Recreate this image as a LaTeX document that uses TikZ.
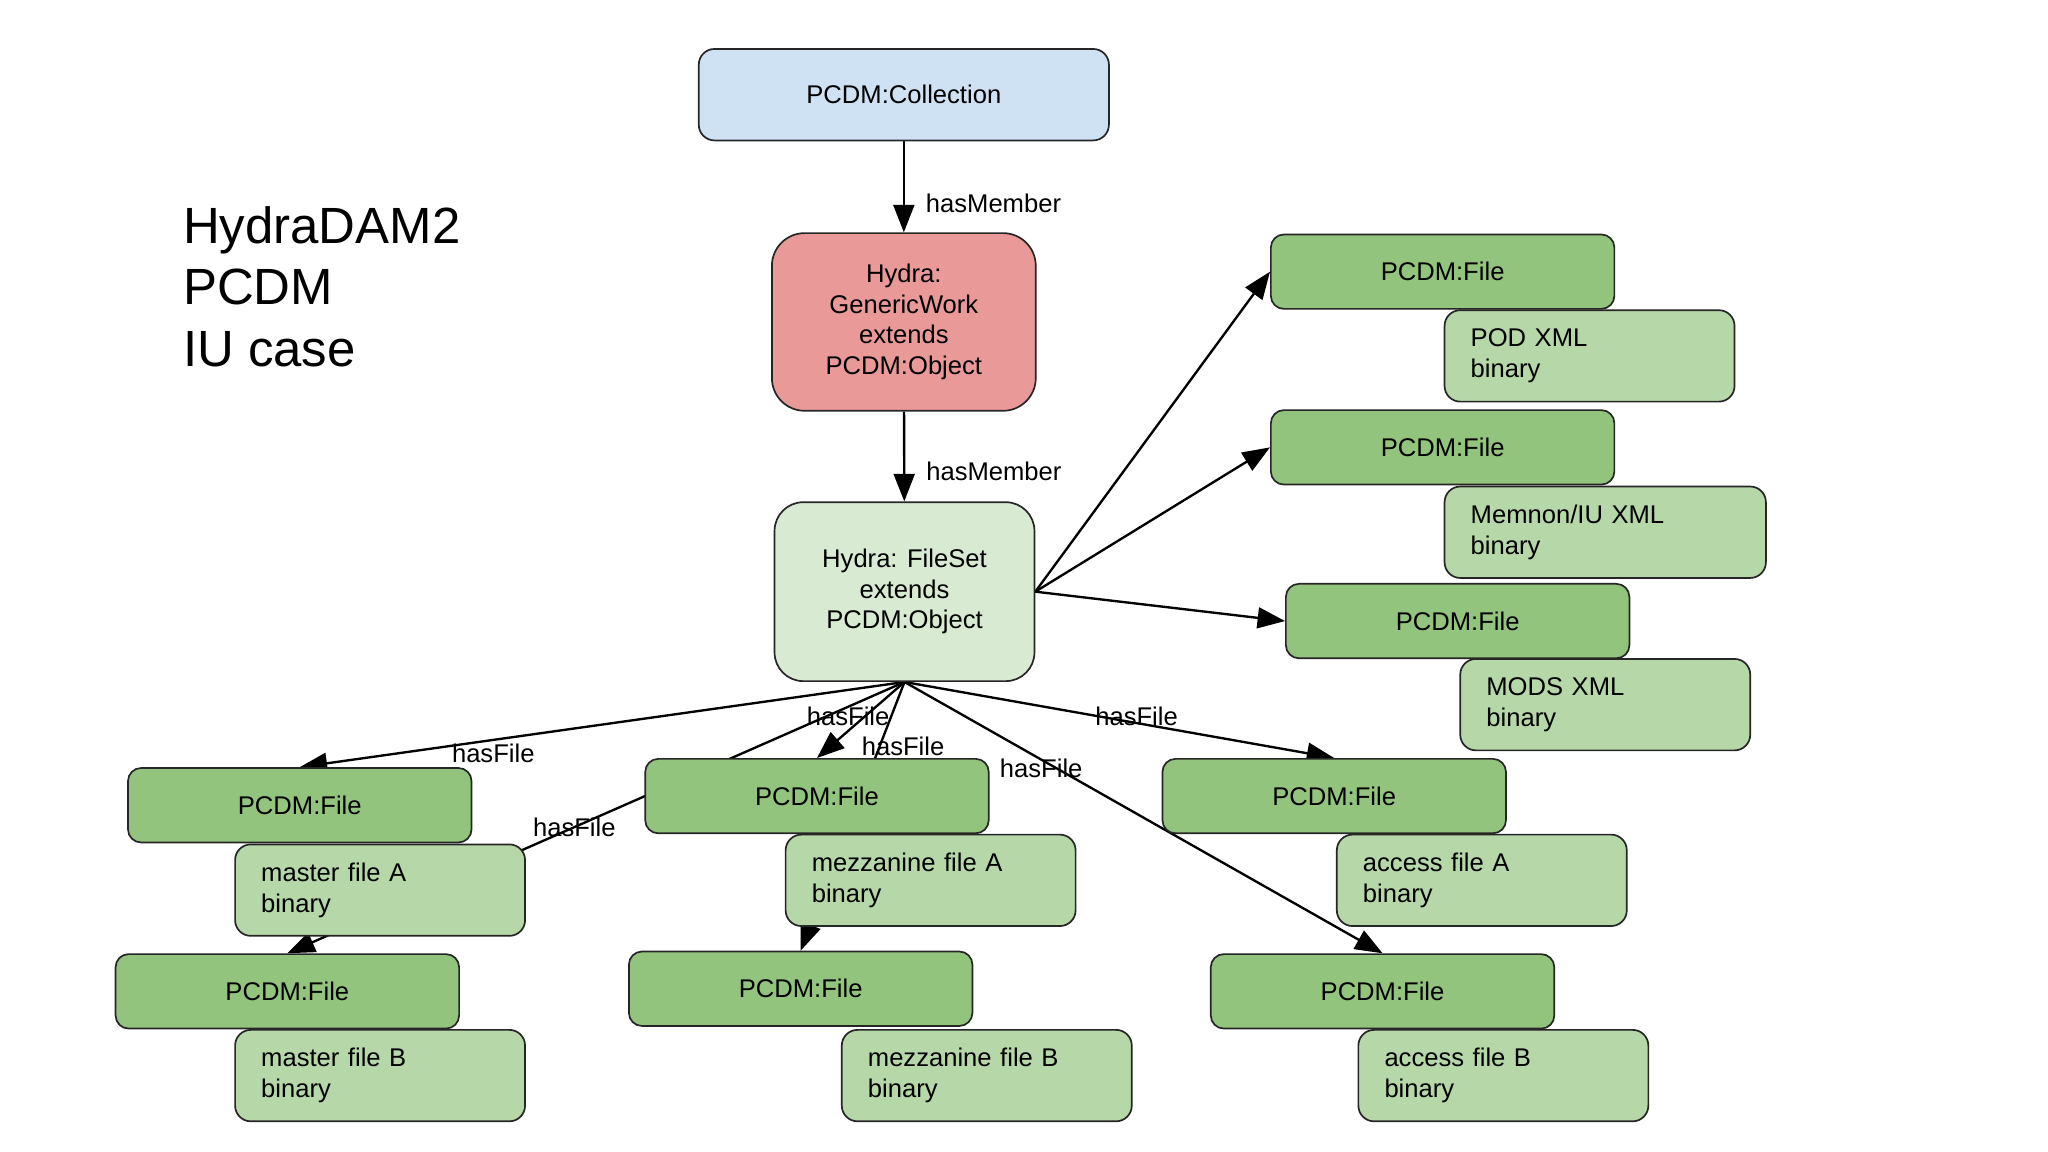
\documentclass[tikz,border=0pt]{standalone}
\usepackage{fontspec}
\setmainfont{Liberation Sans}
\usetikzlibrary{arrows.meta,backgrounds}
\definecolor{collblue}{HTML}{CFE2F3}
\definecolor{workred}{HTML}{EA9999}
\definecolor{setgreen}{HTML}{D9EAD3}
\definecolor{filegreen}{HTML}{93C47D}
\definecolor{bingreen}{HTML}{B6D7A8}
\begin{document}
\begin{tikzpicture}[x=1pt,y=-1pt,
	box/.style={draw=black!85,line width=1.3pt,rounded corners=10pt,inner sep=0pt,font=\fontsize{19.6}{23.4}\selectfont},
	filebox/.style={box,fill=filegreen,minimum width=263pt,minimum height=57pt},
	binbox/.style={box,fill=bingreen,rounded corners=12pt,minimum height=70pt,text width=#1,inner xsep=20pt,align=left},
	binbox/.default=182pt,
	rel/.style={-{Triangle[length=21pt,width=16pt]},line width=1.8pt},
	lbl/.style={font=\fontsize{19.6}{23.4}\selectfont,inner sep=0pt}]
			\useasboundingbox (0,0) rectangle (1568,882);
			%title%
			\node [anchor=north west,inner sep=0pt,align=left,font=\fontsize{39}{47}\selectfont] (title) at (140,158) {HydraDAM2\\PCDM\\IU case};
			%objects%
			\node [box,fill=collblue,rounded corners=12pt,minimum width=314pt,minimum height=70pt] (coll) at (692,72.5) {PCDM:Collection};
			\node [box,fill=workred,rounded corners=25pt,minimum width=202pt,minimum height=136pt,align=center] (work) at (692,246.5) {Hydra:\\GenericWork\\extends\\PCDM:Object};
			\node [box,fill=setgreen,rounded corners=22pt,minimum width=199pt,minimum height=137pt,align=center] (fset) at (692.5,453) {Hydra: FileSet\\extends\\PCDM:Object};
			%files right%
			\node [filebox] (pod) at (1104.5,208) {PCDM:File};
			\node [binbox] (podbin) at (1217,272.5) {POD XML\\binary};
			\node [filebox] (memnon) at (1104.5,342.5) {PCDM:File};
			\node [binbox=206pt] (memnonbin) at (1229,407.5) {Memnon/IU XML\\binary};
			\node [filebox] (mods) at (1116,475.5) {PCDM:File};
			\node [binbox] (modsbin) at (1229,539.5) {MODS XML\\binary};
			%files below%
			\node [filebox] (masterA) at (229.5,616.5) {PCDM:File};
			\node [binbox] (masterAbin) at (291,681.5) {master file A\\binary};
			\node [filebox] (masterB) at (220,759) {PCDM:File};
			\node [binbox] (masterBbin) at (291,823.5) {master file B\\binary};
			\node [filebox] (mezzA) at (625.5,609.5) {PCDM:File};
			\node [binbox] (mezzAbin) at (712.5,674) {mezzanine file A\\binary};
			\node [filebox] (mezzB) at (613,757) {PCDM:File};
			\node [binbox] (mezzBbin) at (755.5,823.5) {mezzanine file B\\binary};
			\node [filebox] (accessA) at (1021.5,609.5) {PCDM:File};
			\node [binbox] (accessAbin) at (1134.5,674) {access file A\\binary};
			\node [filebox] (accessB) at (1058.5,759) {PCDM:File};
			\node [binbox] (accessBbin) at (1151,823.5) {access file B\\binary};
			%arrows%
			\begin{pgfonlayer}{background}
			\fill [white] (0,0) rectangle (1568,882);
			\draw [rel] (coll) -- (work) node[lbl,pos=.68,anchor=west,xshift=16pt] {hasMember};
			\draw [rel] (work) -- (fset) node[lbl,pos=.67,anchor=west,xshift=16pt] {hasMember};
			\draw [rel] (fset.east) -- (pod.west);
			\draw [rel] (fset.east) -- (memnon.west);
			\draw [rel] (fset.east) -- (mods.west);
			\draw [rel] (fset.south) -- (masterA.north) node[lbl,pos=.68,anchor=north,yshift=-2pt] {hasFile};
			\draw [rel] (fset.south) -- (masterB.north) node[lbl,pos=.535] {hasFile};
			\draw [rel] (fset.south) -- (mezzA.north) node[lbl,pos=.45,xshift=-13pt] {hasFile};
			\draw [rel] (fset.south) -- (mezzB.north) node[lbl,pos=.24,xshift=18pt] {hasFile};
			\draw [rel] (fset.south) -- (accessA.north) node[lbl,pos=.54,yshift=5pt] {hasFile};
			\draw [rel] (fset.south) -- (accessB.north) node[lbl,pos=.286,yshift=-7pt] {hasFile};
			\end{pgfonlayer}
\end{tikzpicture}
\end{document}
